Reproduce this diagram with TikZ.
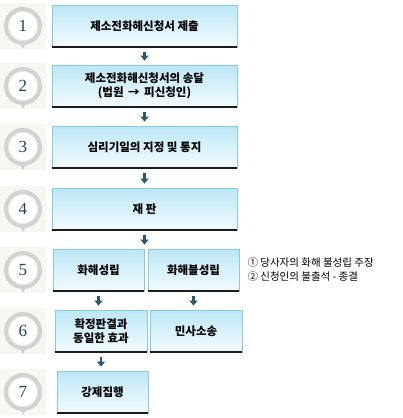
\documentclass[tikz,border=0pt]{standalone}
\usepackage{fontspec}
\setmainfont{Noto Sans CJK KR}
\newfontfamily\numfont{Liberation Serif}
\usetikzlibrary{positioning,calc,arrows.meta}

\definecolor{boxtop}{HTML}{BCE7F6}
\definecolor{boxbot}{HTML}{F3FBFE}
\definecolor{boxline}{HTML}{85CCE2}
\definecolor{boxbase}{HTML}{1C1C1C}
\definecolor{arrowcol}{HTML}{2A5A6A}
\definecolor{numcol}{HTML}{1E4556}
\definecolor{ringcol}{HTML}{D2D2D0}
\definecolor{badgebg}{HTML}{F7F7F2}

\tikzset{
    stepbox/.style={draw=boxline, line width=0.8pt, top color=boxtop, bottom color=boxbot,
        minimum height=42pt, inner sep=0pt, align=center,
        font=\bfseries\fontsize{11.5}{14.5}\selectfont},
    flow/.style={draw=arrowcol, line width=2.6pt, -{Triangle[width=8pt,length=5pt]},
        shorten <=5pt, shorten >=4pt},
}

\begin{document}
\begin{tikzpicture}[x=1pt,y=-1pt]
    \useasboundingbox (0,0) rectangle (402,418);
    % numbered badges
    \foreach \n/\y in {1/26,2/86,3/147,4/209,5/270,6/331,7/392} {
        \fill[badgebg] (0,\y-23) rectangle (46,\y+23);
        \fill[ringcol] (19,\y+15) -- (23,\y+23) -- (27,\y+15) -- cycle;
        \draw[ringcol, line width=4pt, fill=white] (23,\y) circle (17pt);
        \draw[gray!20, line width=0.6pt] (23,\y) circle (14.5pt);
        \node[font=\numfont\fontsize{17}{17}\selectfont, text=numcol] (n\n) at (23,\y) {\n};
    }
    % steps
    \node[stepbox, minimum width=185pt] (s1) at (144.5,26) {제소전화해신청서 제출};
    \node[stepbox, minimum width=185pt] (s2) at (144.5,86) {제소전화해신청서의 송달\\(법원 \,→\, 피신청인)};
    \node[stepbox, minimum width=185pt] (s3) at (144.5,147) {심리기일의 지정 및 통지};
    \node[stepbox, minimum width=185pt] (s4) at (144.5,209) {재 판};
    \node[stepbox, minimum width=91pt] (s5a) at (98.5,270) {화해성립};
    \node[stepbox, minimum width=91pt] (s5b) at (193.5,270) {화해불성립};
    \node[stepbox, minimum width=92pt] (s6a) at (101,331) {확정판결과\\동일한 효과};
    \node[stepbox, minimum width=92pt] (s6b) at (196,331) {민사소송};
    \node[stepbox, minimum width=91pt] (s7) at (102.5,392) {강제집행};
    \foreach \b in {s1,s2,s3,s4,s5a,s5b,s6a,s6b,s7}
        \draw[boxbase, line width=2pt] (\b.south west) -- (\b.south east);
    % note
    \node[anchor=west, align=left, font=\fontsize{10.5}{14}\selectfont] (note) at (244,270)
        {① 당사자의 화해 불성립 주장\\② 신청인의 불출석 - 종결};
    % arrows
    \draw[flow] (s1) -- (s2);
    \draw[flow] (s2) -- (s3);
    \draw[flow] (s3) -- (s4);
    \draw[flow] (s4.south) -- (s4.south |- s5a.north);
    \draw[flow] (s5a.south) -- (s5a.south |- s6a.north);
    \draw[flow] (s5b.south) -- (s5b.south |- s6b.north);
    \draw[flow] (s6a.south) -- (s6a.south |- s7.north);
\end{tikzpicture}
\end{document}
